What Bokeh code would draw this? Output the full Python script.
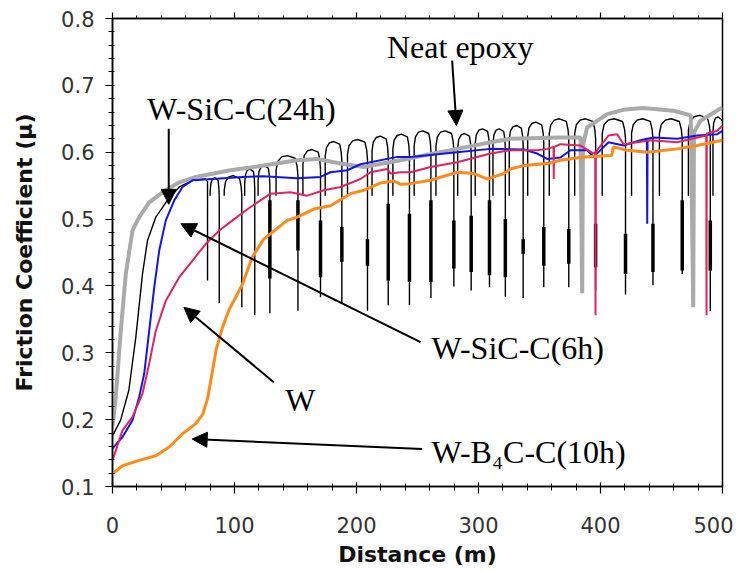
from bokeh.plotting import figure
from bokeh.models import (Range1d, LinearAxis, FixedTicker, PrintfTickFormatter,
                          Arrow, NormalHead, Label, CustomLabelingPolicy)
from bokeh.embed import file_html
from bokeh.resources import INLINE

# ---------------- data ----------------
x_ticks = [0, 100, 200, 300, 400, 500]
x_minor = list(range(0, 501, 20))
y_ticks = [0.1, 0.2, 0.3, 0.4, 0.5, 0.6, 0.7, 0.8]
y_minor = [round(0.1 + 0.02 * i, 2) for i in range(36)]

# black trace: initial rise
black_x0 = [0, 6.6, 13.4, 19.1, 24.6, 28.7, 35.5, 45, 54.7, 65.6, 76.2]
black_y0 = [0.176, 0.199, 0.244, 0.323, 0.418, 0.468, 0.503, 0.528, 0.548, 0.558, 0.56]
# black trace: periodic stick-slip drops (position, lowest value), arch tops between drops
spike_x = [77.9, 87.5, 106.0, 116.6, 129.0, 152.0, 170.5, 188.0, 209.0, 226.0, 243.4, 261.0,
           279.8, 294.0, 309.0, 322.0, 336.6, 353.5, 374.0, 396.0, 420.5, 443.0, 467.0, 490.0]
spike_low = [0.408, 0.374, 0.368, 0.356, 0.359, 0.363, 0.383, 0.374, 0.363, 0.371, 0.371, 0.382,
             0.399, 0.393, 0.398, 0.384, 0.382, 0.398, 0.398, 0.393, 0.387, 0.401, 0.418, 0.362]
arch_top = [0.562, 0.565, 0.575, 0.58, 0.595, 0.604, 0.616, 0.619, 0.624, 0.627, 0.632, 0.632,
            0.628, 0.635, 0.635, 0.64, 0.645, 0.65, 0.65, 0.65, 0.65, 0.65, 0.655, 0.653]
dense_hi = [None, None, None, None, 0.528, 0.528, 0.498, 0.488, 0.47, 0.523, 0.508, 0.528,
            0.498, 0.505, 0.528, 0.5, 0.47, 0.488, 0.485, 0.493, 0.478, 0.493, 0.528, 0.498]
dense_lo = [None, None, None, None, 0.411, 0.453, 0.413, 0.436, 0.43, 0.408, 0.406, 0.406,
            0.426, 0.421, 0.416, 0.413, 0.448, 0.43, 0.433, 0.428, 0.418, 0.421, 0.423, 0.423]

gray_x = [0, 2.7, 6.8, 10.9, 16.4, 21.9, 30.1, 41, 54.7, 68.3, 96.7, 123.8, 151.4, 167.8, 186.9,
          206, 236, 255, 282.5, 310, 326, 367, 383.6, 385, 385.6, 389, 405.5, 420, 435, 460,
          474, 476, 476.6, 482, 498, 500]
gray_y = [0.19, 0.234, 0.333, 0.418, 0.483, 0.503, 0.525, 0.54, 0.555, 0.563, 0.573, 0.58, 0.588,
          0.59, 0.583, 0.578, 0.588, 0.595, 0.605, 0.615, 0.62, 0.622, 0.622, 0.389, 0.61, 0.637,
          0.657, 0.664, 0.666, 0.662, 0.655, 0.368, 0.63, 0.647, 0.665, 0.667]

blue_x = [0, 8.2, 16.4, 21.9, 26, 30.1, 34.2, 38.3, 43.7, 50.6, 57.4, 65.6, 82, 106.6, 123.8,
          151.4, 170.5, 178.7, 192.4, 203.3, 233.4, 244.3, 282.5, 309.8, 337.1, 348.1, 356.3,
          367.2, 375.4, 389.1, 394.3, 406.6, 418.9, 432.8, 438.0, 438.3, 438.6, 443.4, 462.9,
          479.3, 495.7, 500]
blue_y = [0.157, 0.174, 0.199, 0.234, 0.269, 0.333, 0.398, 0.453, 0.498, 0.528, 0.548, 0.558,
          0.56, 0.563, 0.564, 0.561, 0.563, 0.57, 0.573, 0.582, 0.593, 0.593, 0.6, 0.605, 0.604,
          0.598, 0.59, 0.592, 0.603, 0.603, 0.593, 0.615, 0.61, 0.618, 0.62, 0.493, 0.62, 0.622,
          0.62, 0.625, 0.627, 0.632]

crimson_x = [0, 8.2, 16.4, 24.6, 30.1, 35.5, 43.7, 54.7, 65.6, 76.5, 87.5, 98.4, 113.1, 129.5,
             145.9, 159.6, 173.2, 186.9, 203.3, 211.5, 225.2, 227.9, 236.1, 244.3, 260.7, 282.5,
             309.8, 326.2, 348.1, 356.3, 361.5, 361.7, 361.9, 367.2, 383.6, 394.3, 395.7, 395.9,
             396.1, 406.6, 413.7, 418.9, 441, 462.9, 479.3, 486.7, 486.9, 487.1, 495.7, 500]
crimson_y = [0.139, 0.184, 0.204, 0.239, 0.284, 0.333, 0.378, 0.413, 0.438, 0.463, 0.483, 0.498,
             0.518, 0.538, 0.54, 0.535, 0.543, 0.548, 0.56, 0.57, 0.575, 0.568, 0.57, 0.57, 0.578,
             0.585, 0.598, 0.603, 0.603, 0.605, 0.608, 0.56, 0.608, 0.612, 0.61, 0.598, 0.6, 0.356,
             0.6, 0.625, 0.627, 0.612, 0.618, 0.615, 0.622, 0.625, 0.356, 0.628, 0.632, 0.64]

orange_x = [0, 8.2, 21.9, 35.5, 46.5, 57.4, 68.3, 74.0, 78.0, 81.5, 85.0, 90.2, 95.7, 101, 106.6,
            114.5, 124, 143.2, 151.4, 165, 178.7, 195, 206, 219.7, 230.6, 236, 244.3, 260.7,
            282.5, 296.2, 307.1, 320.7, 326.2, 337.1, 356.3, 367.2, 386.3, 409, 410.7, 421.9,
            438.3, 462.9, 479.3, 500]
orange_y = [0.119, 0.131, 0.139, 0.146, 0.159, 0.179, 0.194, 0.208, 0.232, 0.268, 0.305, 0.338,
            0.365, 0.383, 0.403, 0.443, 0.47, 0.498, 0.503, 0.515, 0.52, 0.538, 0.543, 0.554,
            0.557, 0.552, 0.553, 0.558, 0.57, 0.568, 0.56, 0.568, 0.575, 0.58, 0.583, 0.588,
            0.593, 0.595, 0.608, 0.603, 0.6, 0.605, 0.61, 0.618]

# annotations: text, text anchor (x, y), arrow start, arrow tip
ann_text = ["Neat epoxy", "W-SiC-C(24h)", "W-SiC-C(6h)", "W", "W-B\u2084C-C(10h)"]
ann_x = [225, 28.5, 261.5, 141.5, 261.5]
ann_y = [0.758, 0.665, 0.307, 0.229, 0.152]
arr_x0 = [278.4, 46.1, 252.5, 132.2, 253.8]
arr_y0 = [0.737, 0.635, 0.316, 0.256, 0.156]
arr_x1 = [281.9, 46.1, 56.0, 58.5, 65.3]
arr_y1 = [0.64, 0.522, 0.493, 0.368, 0.171]

# ---------------- build black stick-slip trace from the values above ----------------
X_END = 500
bx = [black_x0 + [spike_x[0], spike_x[0]]]
by = [black_y0 + [black_y0[-1] - 0.004, spike_low[0]]]
LEG = 0.535
for k in range(len(spike_x)):
    xa = spike_x[k]
    last = k == len(spike_x) - 1
    xb = X_END if last else spike_x[k + 1]
    w = xb - xa
    t = arch_top[k]
    xl = xa + 0.22 * w
    xs = [xl, xl, xl + 0.06 * w, xl + 0.2 * w, xl + 0.4 * w, xb - 0.1 * w]
    ys = [LEG, t - 0.022, t - 0.009, t - 0.002, t, t - 0.004]
    if last:
        xs += [xb]
        ys += [t - 0.006]
    else:
        xs += [xb - 0.03 * w, xb, xb]
        ys += [t - 0.016, t - 0.03, spike_low[k + 1]]
    bx.append(xs)
    by.append(ys)

dx = [spike_x[i] for i in range(len(spike_x)) if dense_hi[i] is not None]
dh = [dense_hi[i] for i in range(len(spike_x)) if dense_hi[i] is not None]
dl = [dense_lo[i] for i in range(len(spike_x)) if dense_hi[i] is not None]

# ---------------- figure ----------------
p = figure(frame_width=610, frame_height=468,
           x_range=Range1d(0, 500), y_range=Range1d(0.1, 0.8),
           output_backend="svg", toolbar_location=None,
           min_border_left=112, min_border_top=18, min_border_right=11, min_border_bottom=87,
           background_fill_color="white", border_fill_color="white")
p.grid.visible = False
p.outline_line_color = "black"
p.outline_line_width = 1.5

TICK_FONT = "DejaVu Sans"
for ax in p.xaxis:
    ax.ticker = FixedTicker(ticks=x_ticks, minor_ticks=x_minor)
    ax.axis_label = "Distance (m)"
    ax.major_tick_in = 4
    ax.major_tick_out = 7
    ax.minor_tick_in = 3
    ax.minor_tick_out = 4
    ax.major_label_standoff = 23
    ax.axis_label_standoff = 6
for ax in p.yaxis:
    ax.ticker = FixedTicker(ticks=y_ticks, minor_ticks=y_minor)
    ax.formatter = PrintfTickFormatter(format="%.1f")
    ax.axis_label = "Friction Coefficient (\u03bc)"
    ax.major_tick_in = 0
    ax.major_tick_out = 7
    ax.minor_tick_in = 2
    ax.minor_tick_out = 4
    ax.major_label_standoff = 11
    ax.axis_label_standoff = 21
for ax in list(p.xaxis) + list(p.yaxis):
    ax.axis_line_color = "black"
    ax.axis_line_width = 1.5
    ax.major_tick_line_color = "black"
    ax.minor_tick_line_color = "black"
    ax.major_tick_line_width = 1.2
    ax.minor_tick_line_width = 1
    ax.major_label_text_font = TICK_FONT
    ax.major_label_text_font_size = "21px"
    ax.major_label_text_color = "#333333"
    ax.axis_label_text_font = "DejaVu Sans"
    ax.axis_label_text_font_style = "bold"
    ax.axis_label_text_font_size = "22px"
    ax.axis_label_text_color = "#111111"

top = LinearAxis(ticker=FixedTicker(ticks=x_ticks, minor_ticks=x_minor),
                 major_label_policy=CustomLabelingPolicy(code="return []"),
                 major_label_standoff=0,
                 major_tick_in=0, major_tick_out=6, minor_tick_in=0, minor_tick_out=3,
                 axis_line_color="black", axis_line_width=1.5,
                 major_tick_line_color="black", minor_tick_line_color="black",
                 major_tick_line_width=1.2, minor_tick_line_width=1)
p.add_layout(top, "above")

# curves
p.multi_line(xs=bx, ys=by, line_color="black", line_width=1.4)
p.segment(x0=dx, y0=dh, x1=dx, y1=dl, line_color="black", line_width=3.5)
p.line(gray_x, gray_y, line_color="#aaaaaa", line_width=4)
p.line(blue_x, blue_y, line_color="#1414e6", line_width=2)
p.line(crimson_x, crimson_y, line_color="#e0245e", line_width=2)
p.line(orange_x, orange_y, line_color="#ff8c1a", line_width=3)

# annotations
for i in range(len(ann_text)):
    p.add_layout(Arrow(end=NormalHead(size=15, fill_color="black", line_color="black"),
                       x_start=arr_x0[i], y_start=arr_y0[i], x_end=arr_x1[i], y_end=arr_y1[i],
                       line_color="black", line_width=2))
    p.add_layout(Label(x=ann_x[i], y=ann_y[i], text=ann_text[i],
                       text_font="Liberation Serif", text_font_size="32px",
                       text_color="black", text_baseline="alphabetic"))

open("out.html", "w").write(file_html(p, INLINE))
